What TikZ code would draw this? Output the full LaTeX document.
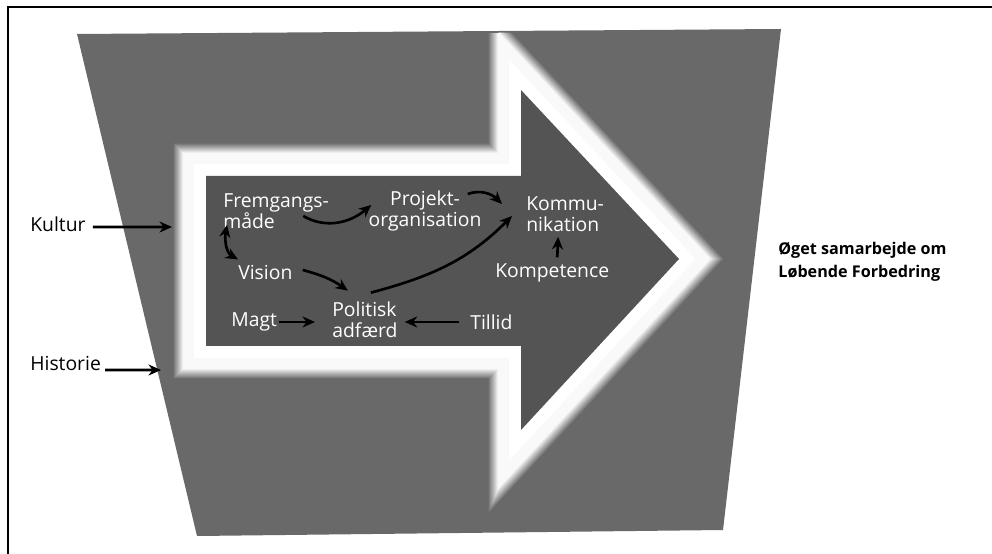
\documentclass[tikz,border=0pt]{standalone}
\usepackage{fontspec}
\setmainfont{Open Sans}
\usetikzlibrary{arrows.meta,calc}
\definecolor{bggray}{gray}{0.41}
\definecolor{arrowgray}{gray}{0.33}
\tikzset{
  lbl/.style={text=white,font=\fontsize{11}{12}\selectfont},
  side/.style={text=black,font=\fontsize{11}{12}\selectfont},
  res/.style={text=black,font=\fontsize{9.2}{13}\selectfont\bfseries},
  conn/.style={line width=1.5pt,-{Stealth[length=2.5mm,width=2.2mm]}},
  dconn/.style={line width=1.5pt,{Stealth[length=2.5mm,width=2.2mm]}-{Stealth[length=2.5mm,width=2.2mm]}},
}
\begin{document}
\begin{tikzpicture}[scale=0.2]
\tikzstyle{every node}+=[inner sep=0pt]
\useasboundingbox (0,0) rectangle (99.2,-55.4);
% frame
\draw [line width=1.4pt] (0.8,-55.4) -- (0.8,-0.7) -- (99.2,-0.7);
% background
\fill [bggray] (7.7,-3.4) -- (78.1,-2.9) -- (72.3,-53.0) -- (19.7,-53.6) -- cycle;
% big arrow
\coordinate (a1) at (20.6,-17.6);
\coordinate (a2) at (52.1,-17.6);
\coordinate (a3) at (52.1,-9.0);
\coordinate (a4) at (67.9,-25.9);
\coordinate (a5) at (52.1,-43.0);
\coordinate (a6) at (52.1,-34.6);
\coordinate (a7) at (20.6,-34.6);
\begin{scope}
\clip (7.7,-3.6) -- (78.1,-3.1) -- (72.3,-53.0) -- (19.7,-53.6) -- cycle;
\foreach \k in {0,...,11}{
  \pgfmathsetmacro{\glowwd}{1.3-0.0342*\k}
  \pgfmathtruncatemacro{\glowmix}{8*\k+8}
  \draw [line width=\glowwd cm, line join=miter, white!\glowmix!bggray] (a1) -- (a2) -- (a3) -- (a4) -- (a5) -- (a6) -- (a7) -- cycle;
}
\draw [line width=0.48cm, line join=miter, white] (a1) -- (a2) -- (a3) -- (a4) -- (a5) -- (a6) -- (a7) -- cycle;
\end{scope}
\fill [arrowgray] (a1) -- (a2) -- (a3) -- (a4) -- (a5) -- (a6) -- (a7) -- cycle;
% labels
\node [side, anchor=west] (kultur) at (3.0,-22.4) {Kultur};
\node [side, anchor=west] (historie) at (3.0,-36.3) {Historie};
\node [lbl, anchor=west, align=left] (fremgang) at (22.3,-21.1) {Fremgangs-\\måde};
\node [lbl, align=center] (projekt) at (42.5,-21.1) {Projekt-\\organisation};
\node [lbl, anchor=west, align=left] (kommu) at (52.6,-21.4) {Kommu-\\nikation};
\node [lbl, anchor=west] (kompetence) at (49.5,-27.3) {Kompetence};
\node [lbl, anchor=west] (vision) at (23.8,-27.3) {Vision};
\node [lbl, anchor=west, align=left] (politisk) at (33.2,-32.0) {Politisk\\adfærd};
\node [lbl, anchor=west] (magt) at (23.1,-32.2) {Magt};
\node [lbl, anchor=west] (tillid) at (47.0,-32.2) {Tillid};
\node [res, anchor=west, align=left] (resultat) at (77.8,-26.2) {Øget samarbejde om\\Løbende Forbedring};
% outside arrows
\coordinate (kulturend) at (17.2,-22.7);
\coordinate (historieend) at (16.1,-37.0);
\draw [conn] ($(kultur.east)+(0.7,-0.3)$) -- (kulturend);
\draw [conn] ($(historie.east)+(0.4,-0.7)$) -- (historieend);
% inside arrows
\draw [conn] ($(fremgang.east)+(-2.6,-0.5)$) to[out=-30,in=-140] ($(projekt.west)+(0.3,0.6)$);
\draw [conn] ($(projekt.east)+(-1.4,1.7)$) to[out=20,in=135] ($(kommu.west)+(-2.4,1.0)$);
\draw [conn] ($(politisk.north)+(0.6,0.9)$) to[out=15,in=-135] ($(kommu.west)+(-1.4,-0.2)$);
\draw [conn] ($(kompetence.north)+(0.5,0.6)$) -- ($(kommu.south)+(-0.7,-0.5)$);
\draw [conn] ($(vision.east)+(1.0,0.3)$) to[out=-15,in=145] ($(politisk.north)+(-1.7,1.1)$);
\draw [dconn] ($(fremgang.south west)+(0.4,0.4)$) to[out=-100,in=150] ($(vision.north west)+(0,0.6)$);
\draw [conn] ($(magt.east)+(0.2,0)$) -- ($(politisk.west |- magt.east)+(-1.7,0)$);
\draw [conn] ($(tillid.west)+(-1.1,0)$) -- ($(politisk.east |- tillid.west)+(0.7,0)$);
\end{tikzpicture}
\end{document}
